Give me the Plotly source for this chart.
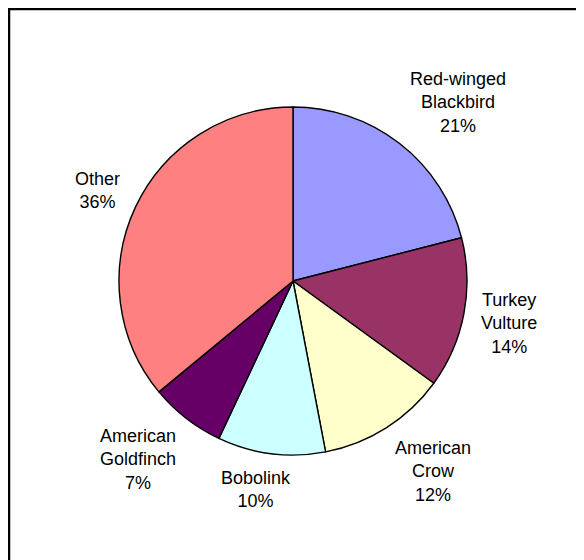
import math
import plotly.graph_objects as go

labels = ["Red-winged<br>Blackbird", "Turkey<br>Vulture", "American<br>Crow", "Bobolink", "American<br>Goldfinch", "Other"]
values = [21, 14, 12, 10, 7, 36]
colors = ["#9999FF", "#993366", "#FFFFCC", "#CCFFFF", "#660066", "#FF8080"]

# figure sits at page offset (8, 8) because of the default body margin
W, H = 576, 552
cx, cy, r = 285, 273, 174
FONT = 18
R_LABEL = 191
K_H, K_V = 3.0, 1.1

# Arial advance widths (per 1000 em) used to estimate label box sizes
AW = {"A": 667, "B": 667, "C": 722, "G": 778, "O": 778, "R": 722, "T": 611, "V": 667,
      "a": 556, "b": 556, "c": 500, "d": 556, "e": 556, "f": 278, "g": 556, "h": 556,
      "i": 222, "k": 500, "l": 222, "m": 833, "n": 556, "o": 556, "r": 333, "t": 278,
      "u": 556, "w": 722, "y": 500, "-": 333, "%": 889, " ": 278}


def text_w(line):
    return sum(AW.get(ch, 556) for ch in line) / 1000 * FONT


def clamp(v):
    return max(-1.0, min(1.0, v))


fig = go.Figure(go.Pie(
    labels=labels, values=values, sort=False, direction="clockwise", rotation=0,
    marker=dict(colors=colors, line=dict(color="black", width=1.4)),
    textinfo="none",
    domain=dict(x=[(cx - r) / W, (cx + r) / W], y=[(H - cy - r) / H, (H - cy + r) / H]),
    showlegend=False, hoverinfo="label+percent",
))

total = sum(values)
annotations = []
cum = 0
for lab, v in zip(labels, values):
    mid = (cum + v / 2) / total * 2 * math.pi
    cum += v
    s, c = math.sin(mid), math.cos(mid)
    pct = round(v / total * 100)
    lines = lab.split("<br>") + [f"{pct}%"]
    hw = max(text_w(l) for l in lines) / 2
    hh = (len(lines) - 1) * 12.5 + 7
    lx = cx + s * R_LABEL + clamp(K_H * s) * hw
    ly = cy - c * R_LABEL - clamp(K_V * c) * hh
    annotations.append(dict(
        x=lx / W, y=1 - ly / H, xref="paper", yref="paper",
        text="<br>".join(lines), showarrow=False, xanchor="center", yanchor="middle", align="center",
        font=dict(family="Liberation Sans, Arial", size=FONT, color="black"),
    ))

fig.update_layout(
    width=W, height=H, margin=dict(l=0, r=0, t=0, b=0),
    paper_bgcolor="white", plot_bgcolor="white",
    annotations=annotations,
    shapes=[dict(type="rect", xref="paper", yref="paper", x0=1 / W, y0=-0.1, x1=1.1, y1=1 - 1 / H,
                 line=dict(color="black", width=2.5))],
)
fig.write_html("out.html")
